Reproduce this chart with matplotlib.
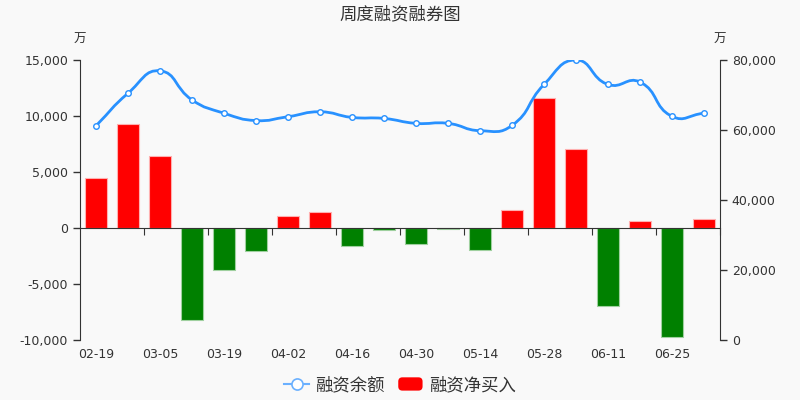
import numpy as np
import matplotlib
matplotlib.use("Agg")
import matplotlib.pyplot as plt
from matplotlib.path import Path
from matplotlib.patches import PathPatch, FancyBboxPatch
from matplotlib.lines import Line2D
from matplotlib.legend_handler import HandlerPatch

plt.rcParams['font.family'] = ['DejaVu Sans', 'Noto Sans CJK SC']

# weekly dates (labels every other week)
dates = ["02-19", "02-26", "03-05", "03-12", "03-19", "03-26", "04-02", "04-09", "04-16", "04-23",
         "04-30", "05-07", "05-14", "05-21", "05-28", "06-04", "06-11", "06-18", "06-25", "07-02"]
# 融资净买入 (万), left axis
net_buy = [4440, 9290, 6400, -8210, -3750, -2050, 1100, 1460, -1610, -200,
           -1400, -50, -1960, 1580, 11610, 7050, -6940, 650, -9700, 830]
# 融资余额 (万), right axis
balance = [61200, 70500, 76900, 68600, 64800, 62700, 63800, 65200, 63600, 63300,
           61900, 61900, 59800, 61300, 73000, 80000, 73000, 73700, 63900, 64800]

LINE_C = "#2891ff"
RED, GREEN = "#ff0000", "#008000"
TXT = "#333333"
BG = "#f9f9f9"


def smooth_path(xs, ys, sx, sy, smooth=0.5):
    """echarts-like smooth bezier through the points; control pts computed in pixel-ish space."""
    P = np.column_stack([np.asarray(xs, float) * sx, np.asarray(ys, float) * sy])
    n = len(P)
    verts, codes = [P[0]], [Path.MOVETO]
    cps = []
    for i in range(n):
        prev = P[max(i - 1, 0)]
        nxt = P[min(i + 1, n - 1)]
        v = nxt - prev
        d0 = np.linalg.norm(P[i] - prev)
        d1 = np.linalg.norm(P[i] - nxt)
        s = d0 + d1
        if s == 0:
            cps.append((P[i], P[i]))
            continue
        cps.append((P[i] - v * smooth * d0 / s, P[i] + v * smooth * d1 / s))
    for i in range(n - 1):
        verts += [cps[i][1], cps[i + 1][0], P[i + 1]]
        codes += [Path.CURVE4] * 3
    verts = np.array(verts)
    verts[:, 0] /= sx
    verts[:, 1] /= sy
    return Path(verts, codes)


fig = plt.figure(figsize=(8, 4), dpi=100, facecolor=BG)
ax = fig.add_axes([0.1, 0.15, 0.8, 0.7], facecolor=BG)
ax2 = ax.twinx()

x = np.arange(len(dates))
cols = [RED if v >= 0 else GREEN for v in net_buy]
edges = ["#ffb0b0" if v >= 0 else "#9fd09f" for v in net_buy]
ax.bar(x, net_buy, width=0.69, color=cols, edgecolor=edges, linewidth=0.8, zorder=2)

ax.set_xlim(-0.5, len(dates) - 0.5)
ax.set_ylim(-10000, 15000)
ax.set_yticks([-10000, -5000, 0, 5000, 10000, 15000])
ax.yaxis.set_major_formatter(matplotlib.ticker.FuncFormatter(lambda v, p: f"{int(v):,}"))

ax2.set_ylim(0, 80000)
ax2.set_yticks([0, 20000, 40000, 60000, 80000])
ax2.yaxis.set_major_formatter(matplotlib.ticker.FuncFormatter(lambda v, p: f"{int(v):,}"))

# smooth balance line (pixel scale: 32 px per category, 3.5 px per 1000)
path = smooth_path(x, balance, 32.0, 3.5 / 1000.0)
ax2.add_patch(PathPatch(path, facecolor="none", edgecolor=LINE_C, lw=2, zorder=3))
ax2.plot(x, balance, ls="none", marker="o", ms=4, mfc="white", mec=LINE_C, mew=1, zorder=4)

for a in (ax, ax2):
    a.spines["top"].set_visible(False)
    a.tick_params(axis="y", colors=TXT, labelsize=9, length=5, width=1)
ax.spines["right"].set_visible(False)
ax2.spines["left"].set_visible(False)
ax2.spines["bottom"].set_visible(False)
ax.spines["left"].set_color("#333333")
ax2.spines["right"].set_color("#333333")

# category axis sits at zero, with ticks at every second boundary
ax.spines["bottom"].set_position(("data", 0))
ax.spines["bottom"].set_color("#333333")
ax.set_xticks(np.arange(-0.5, len(dates), 2)[1:], labels=[])
ax.tick_params(axis="x", direction="out", length=5, color="#333333")
sec = ax.secondary_xaxis(0)
sec.set_xticks(x[::2], labels=dates[::2])
sec.tick_params(length=0, colors=TXT, labelsize=9, pad=6)
sec.spines["bottom"].set_visible(False)

fig.text(0.1, 1 - 39 / 400, "万", ha="center", va="center", fontsize=9, color=TXT)
fig.text(0.9, 1 - 39 / 400, "万", ha="center", va="center", fontsize=9, color=TXT)
fig.text(0.5, 1 - 14 / 400, "周度融资融券图", ha="center", va="center", fontsize=12.5, color=TXT)


def make_box(legend, orig_handle, xdescent, ydescent, width, height, fontsize):
    return FancyBboxPatch((-xdescent, -ydescent), width, height,
                          boxstyle="round,pad=0,rounding_size=3", fc=RED, ec="none")


h_line = Line2D([], [], color="#6ab0ff", lw=1.5, marker="o", ms=8, mfc="white", mec="#6ab0ff", mew=1.2)
h_box = FancyBboxPatch((0, 0), 1, 1, fc=RED, ec="none", lw=0)
fig.legend([h_line, h_box], ["融资余额", "融资净买入"], loc="center", bbox_to_anchor=(0.5, 1 - 385 / 400),
           ncol=2, frameon=False, fontsize=12.5, labelcolor=TXT, handlelength=1.4, handleheight=0.8,
           handletextpad=0.35, columnspacing=0.8,
           handler_map={FancyBboxPatch: HandlerPatch(patch_func=make_box)})

fig.savefig("out.png", dpi=100, facecolor=BG)
